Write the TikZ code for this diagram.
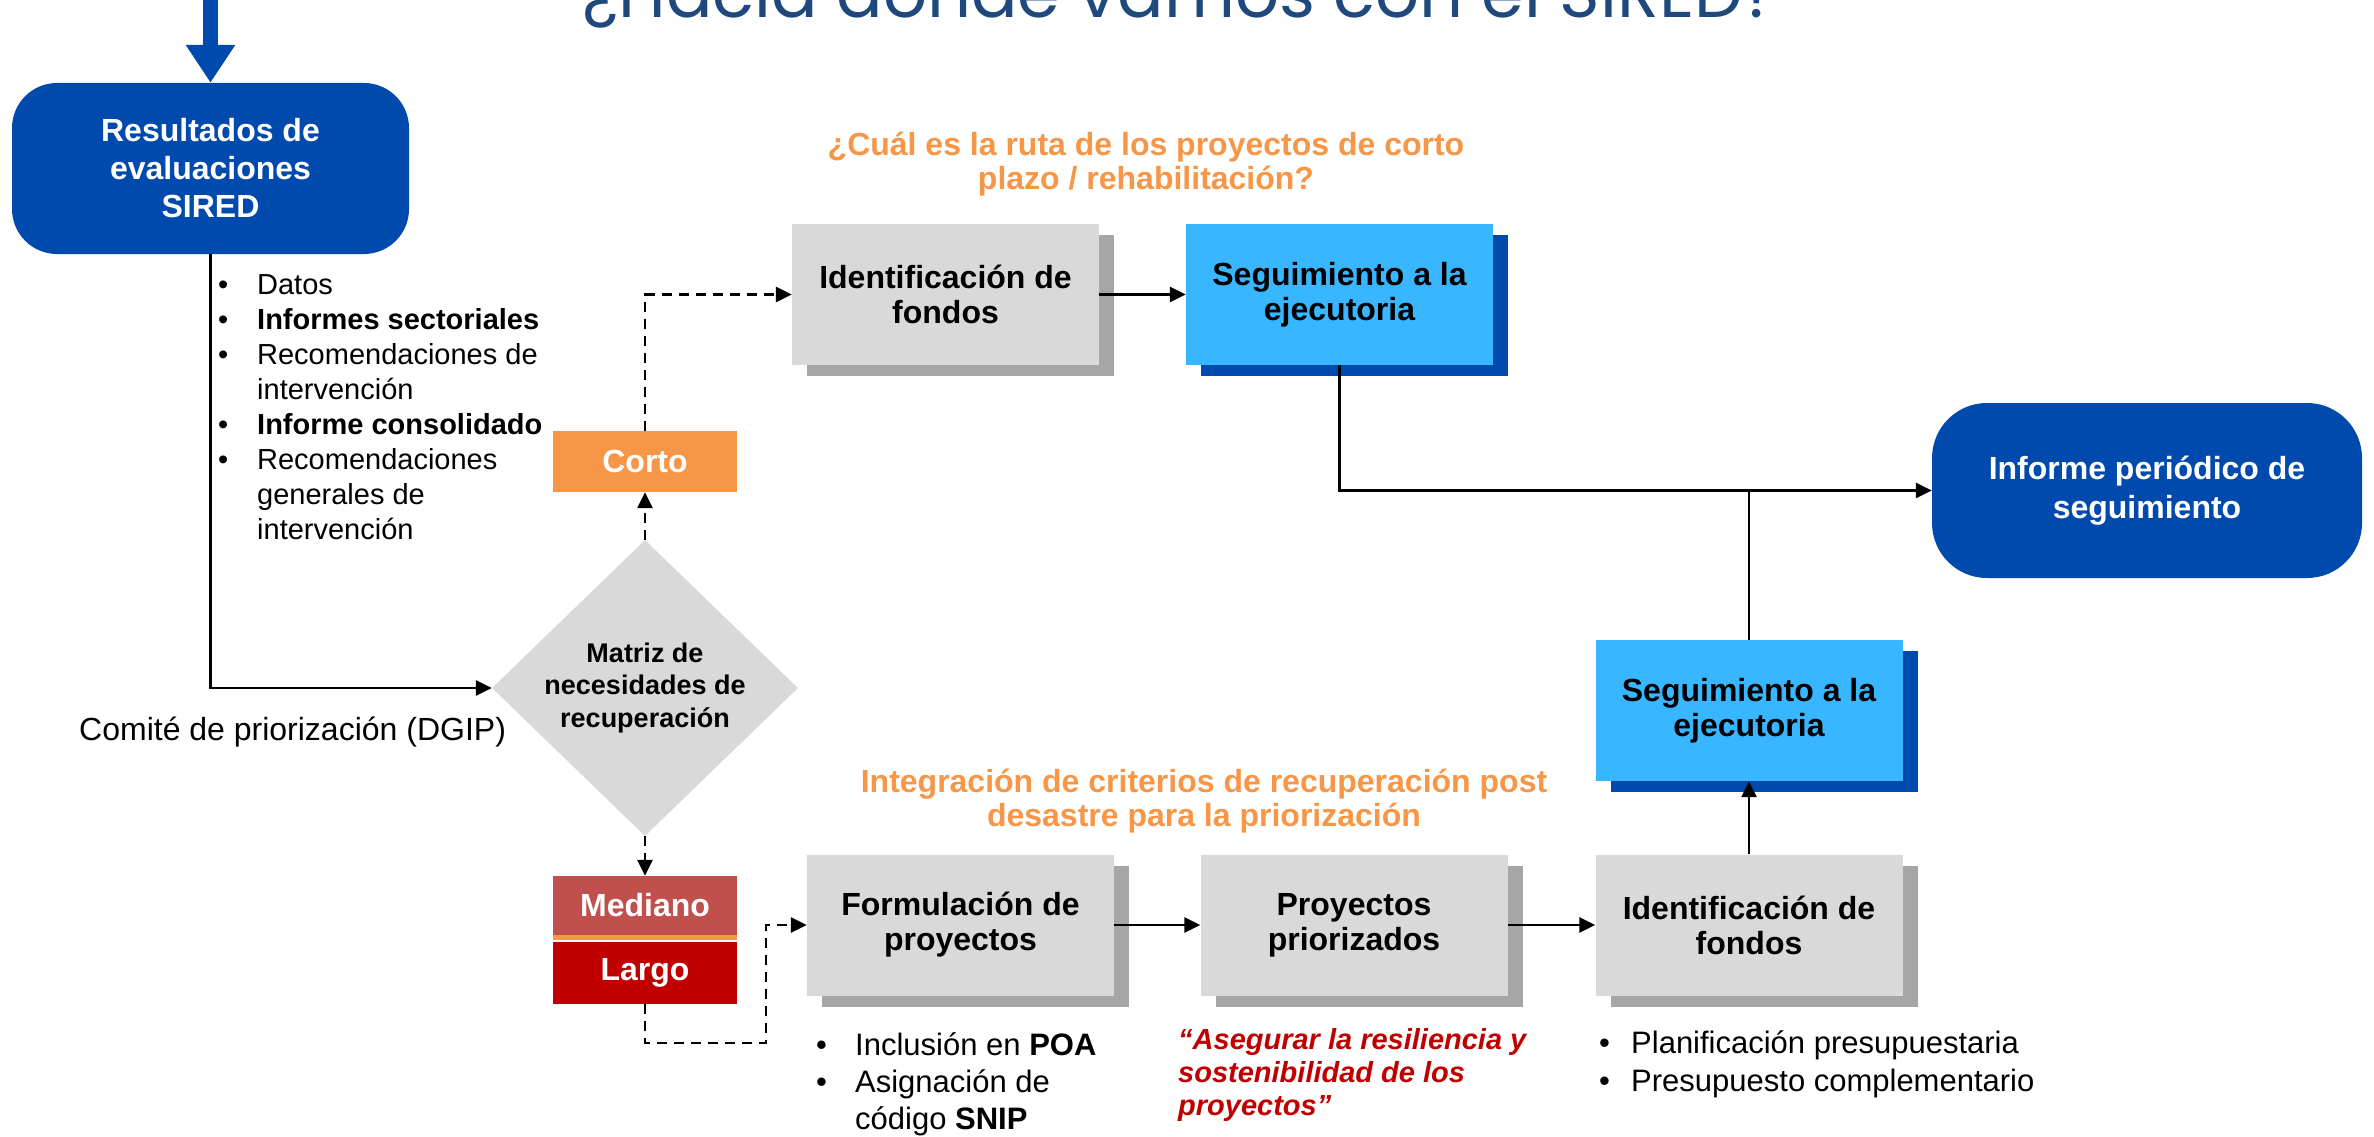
\documentclass[tikz,border=0pt]{standalone}
\usepackage{fontspec}
\setmainfont{Liberation Sans}
\newfontfamily\titlefont{Poppins}
\usetikzlibrary{arrows.meta,shapes.geometric,shadows,calc}
\definecolor{cDBlue}{HTML}{004AAD}
\definecolor{cLBlue}{HTML}{38B6FF}
\definecolor{cGray}{HTML}{D9D9D9}
\definecolor{cShadow}{HTML}{A6A6A6}
\definecolor{cOrange}{HTML}{F79646}
\definecolor{cMed}{HTML}{C0504D}
\definecolor{cLargo}{HTML}{C00000}
\definecolor{cTitle}{HTML}{1F497D}
\newcommand\mlc[1]{\begin{tabular}[t]{@{}c@{}}#1\end{tabular}}
\tikzset{
  roundbox/.style={fill=cDBlue, text=white, align=center, inner sep=0pt,
    font=\bfseries\fontsize{32}{38}\selectfont},
  graybox/.style={fill=cGray, minimum width=307pt, minimum height=141pt, inner sep=0pt,
    align=center, font=\bfseries\fontsize{32}{35}\selectfont,
    drop shadow={shadow xshift=15pt, shadow yshift=-11pt, fill=cShadow, opacity=1}},
  bluebox/.style={fill=cLBlue, minimum width=307pt, minimum height=141pt, inner sep=0pt,
    align=center, font=\bfseries\fontsize{32}{35}\selectfont,
    drop shadow={shadow xshift=15pt, shadow yshift=-11pt, fill=cDBlue, opacity=1}},
  termbox/.style={minimum width=184pt, inner sep=0pt, text=white,
    font=\bfseries\fontsize{32}{36}\selectfont},
  conn/.style={draw=black, line width=2.5pt, -{Triangle[length=16pt,width=15pt]}},
  dashconn/.style={conn, dash pattern=on 10pt off 7pt},
  plain/.style={draw=black, line width=2.5pt},
  orangelbl/.style={text=cOrange, inner sep=0pt, font=\bfseries\fontsize{32}{34}\selectfont},
  listtxt/.style={inner sep=0pt, anchor=base west},
}
\begin{document}
\begin{tikzpicture}[x=1pt,y=-1pt]
\useasboundingbox (0,0) rectangle (2374,1137);
\begin{scope}
\clip (0,0) rectangle (2374,1137);
% title (cut off at top)
\node[anchor=base, text=cTitle, inner sep=0pt] (title) at (1181,18)
  {\resizebox{1196pt}{!}{\titlefont ¿Hacia dónde vamos con el SIRED?}};

% nodes
\node[roundbox, rounded corners=45pt, minimum width=397pt, minimum height=171pt] (res) at (210.5,168.5)
  {Resultados de\\evaluaciones\\SIRED};
\coordinate (topin) at (210.5,-10);

\node[diamond, fill=cGray, minimum width=306pt, minimum height=296pt, inner sep=0pt,
  align=center, font=\bfseries\fontsize{27}{32.5}\selectfont] (mat) at (645,688)
  {Matriz de\\necesidades de\\recuperación};

\node[termbox, fill=cOrange, minimum height=61pt] (corto) at (645,461.5) {Corto};
\node[termbox, fill=cMed, minimum height=59pt] (mediano) at (645,905.5) {Mediano};
\node[fill=cOrange, minimum width=184pt, minimum height=5pt, inner sep=0pt] (sepbar) at (645,937.5) {};
\node[termbox, fill=cLargo, minimum height=62pt] (largo) at (645,973) {Largo};

\node[graybox] (idtop) at (945.5,294.5) {Identificación de\\fondos};
\node[bluebox] (segtop) at (1339.5,294.5) {Seguimiento a la\\ejecutoria};
\node[roundbox, rounded corners=55pt, minimum width=430pt, minimum height=175pt,
  font=\bfseries\fontsize{32}{39}\selectfont] (inf) at (2147,490.5)
  {Informe periódico de\\seguimiento};
\node[bluebox] (segbot) at (1749,710.5) {Seguimiento a la\\ejecutoria};

\node[graybox] (form) at (960.5,925) {Formulación de\\proyectos};
\node[graybox] (prio) at (1354,925) {Proyectos\\priorizados};
\node[graybox] (idbot) at (1749,925) {Identificación de\\fondos};

% labels
\node[orangelbl, anchor=base] (q1) at (1146,156)
  {\mlc{¿Cuál es la ruta de los proyectos de corto\\plazo / rehabilitación?}};
\node[orangelbl, anchor=base] (q2) at (1204,792)
  {\mlc{Integración de criterios de recuperación post\\desastre para la priorización}};

\node[inner sep=0pt, anchor=base west, font=\fontsize{32}{37}\selectfont] (comite) at (79,740)
  {Comité de priorización (DGIP)};

\node[listtxt, font=\fontsize{29}{35}\selectfont] (list1) at (218,294)
  {\begin{tabular}[t]{@{}p{39pt}@{}l@{}}
  • & Datos\\
  • & \textbf{Informes sectoriales}\\
  • & Recomendaciones de\\
    & intervención\\
  • & \textbf{Informe consolidado}\\
  • & Recomendaciones\\
    & generales de\\
    & intervención
  \end{tabular}};

\node[listtxt, font=\fontsize{31}{37}\selectfont] (list2) at (816,1055)
  {\begin{tabular}[t]{@{}p{39pt}@{}l@{}}
  • & Inclusión en \textbf{POA}\\
  • & Asignación de\\
    & código \textbf{SNIP}
  \end{tabular}};

\node[listtxt, text=cLargo, font=\bfseries\itshape\fontsize{29}{33}\selectfont] (quote) at (1178,1049)
  {\begin{tabular}[t]{@{}l@{}}
  “Asegurar la resiliencia y\\
  sostenibilidad de los\\
  proyectos”
  \end{tabular}};

\node[listtxt, font=\fontsize{31}{38}\selectfont] (list3) at (1599,1053)
  {\begin{tabular}[t]{@{}p{32pt}@{}l@{}}
  • & Planificación presupuestaria\\
  • & Presupuesto complementario
  \end{tabular}};

% connectors
\draw[draw=cDBlue, line width=15pt, -{Triangle[length=38pt,width=47pt]}] (topin) -- (res.north);
\draw[conn] (res.south) |- (mat.west);
\draw[dashconn] (mat.north) -- (corto.south);
\draw[dashconn] (corto.north) |- (idtop.west);
\draw[conn] (idtop.east) -- (segtop.west);
\draw[conn] (segtop.south) |- (inf.west);
\draw[plain] (segbot.north) -- (segbot.north |- inf.west);
\draw[dashconn] (mat.south) -- (mediano.north);
\coordinate (lc) at (766,1043);
\draw[dashconn] (largo.south) |- (lc) |- (form.west);
\draw[conn] (form.east) -- (prio.west);
\draw[conn] (prio.east) -- (idbot.west);
\draw[conn] (idbot.north) -- (segbot.south);
\end{scope}
\end{tikzpicture}
\end{document}
